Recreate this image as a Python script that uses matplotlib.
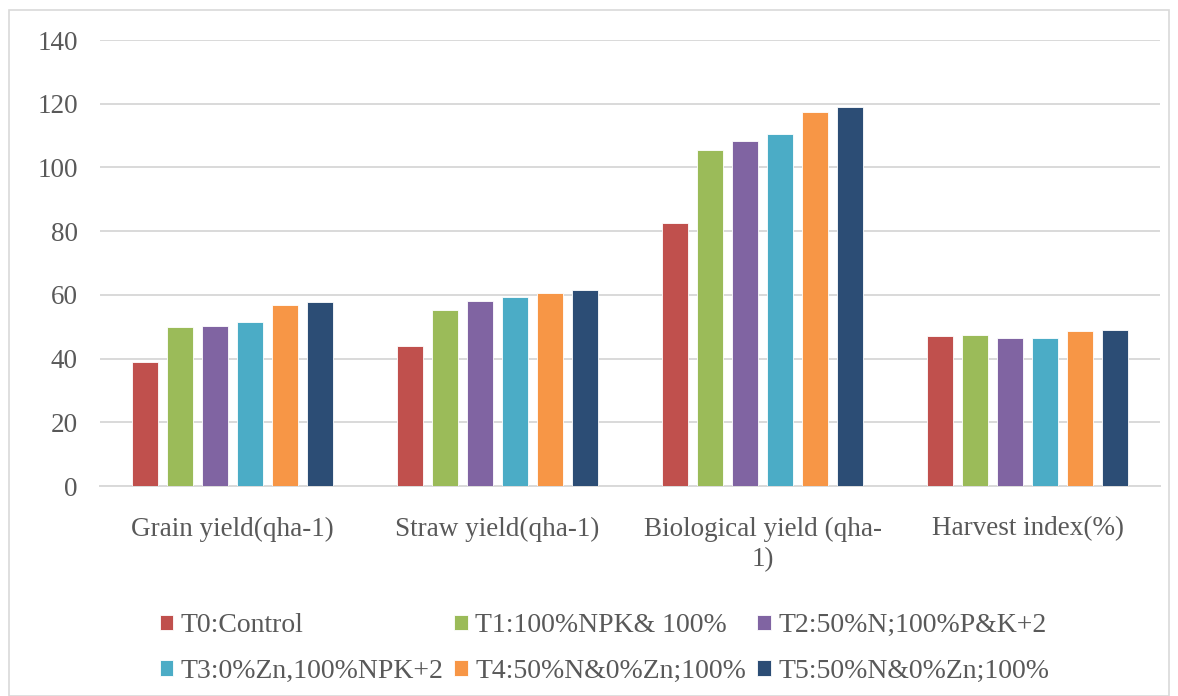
import matplotlib.pyplot as plt
import matplotlib.patches as mpatches
import numpy as np

# categories and treatment values
categories = ['Grain yield(qha-1)', 'Straw yield(qha-1)',
              'Biological yield (qha-\n1)', 'Harvest index(%)']
treatments = ['T0:Control', 'T1:100%NPK& 100%', 'T2:50%N;100%P&K+2',
              'T3:0%Zn,100%NPK+2', 'T4:50%N&0%Zn;100%', 'T5:50%N&0%Zn;100%']
t0 = [39.0, 43.8, 82.7, 47.0]
t1 = [49.9, 55.1, 105.6, 47.4]
t2 = [50.1, 58.1, 108.2, 46.5]
t3 = [51.4, 59.2, 110.6, 46.5]
t4 = [56.9, 60.6, 117.4, 48.8]
t5 = [57.9, 61.4, 119.1, 49.0]
colors = ['#C0504D', '#9BBB59', '#8064A2', '#4BACC6', '#F79646', '#2C4D75']

plt.rcParams['font.family'] = ['Liberation Serif', 'DejaVu Serif']
txt_col = '#595959'

fig = plt.figure(figsize=(11.78, 6.96), dpi=100)
ax = fig.add_axes([0.0849, 0.3017, 0.90, 0.6408])

x = np.arange(len(categories))
series = [t0, t1, t2, t3, t4, t5]
pitch = 0.132
width = 0.10
handles = []
for i, (vals, col) in enumerate(zip(series, colors)):
    off = (i - 2.5) * pitch
    b = ax.bar(x + off, vals, width, color=col, edgecolor='white', linewidth=0.6,
               label=treatments[i], zorder=3)
    handles.append(b)

ax.set_xlim(-0.5, 3.5)
ax.set_ylim(0, 140)
ax.set_yticks(range(0, 141, 20))
ax.grid(axis='y', color='#D9D9D9', linewidth=1.4, zorder=0)
ax.set_axisbelow(True)
for s in ['top', 'right', 'left']:
    ax.spines[s].set_visible(False)
ax.spines['bottom'].set_color('#D9D9D9')
ax.spines['bottom'].set_linewidth(1.4)
ax.set_xticks(x)
ax.set_xticklabels(categories, linespacing=1.3)
ax.tick_params(axis='both', length=0, labelsize=19.5, colors=txt_col)
ax.tick_params(axis='y', pad=16)
ax.tick_params(axis='x', pad=22)

# legend: 2 rows x 3 cols, filled row-wise
order = [0, 3, 1, 4, 2, 5]
leg = fig.legend([handles[k] for k in order], [treatments[k] for k in order],
                 ncol=3, loc='center', bbox_to_anchor=(0.513, 0.068),
                 frameon=False, fontsize=20, handlelength=0.5, handleheight=0.5,
                 handletextpad=0.25, columnspacing=0.4, labelspacing=0.74)
for t in leg.get_texts():
    t.set_color(txt_col)

# outer chart border
fig.patches.append(mpatches.Rectangle((0.008, 0.0), 0.984, 0.985, transform=fig.transFigure,
                                      fill=False, edgecolor='#D9D9D9', linewidth=1.2))

fig.savefig('out.png', dpi=100)
